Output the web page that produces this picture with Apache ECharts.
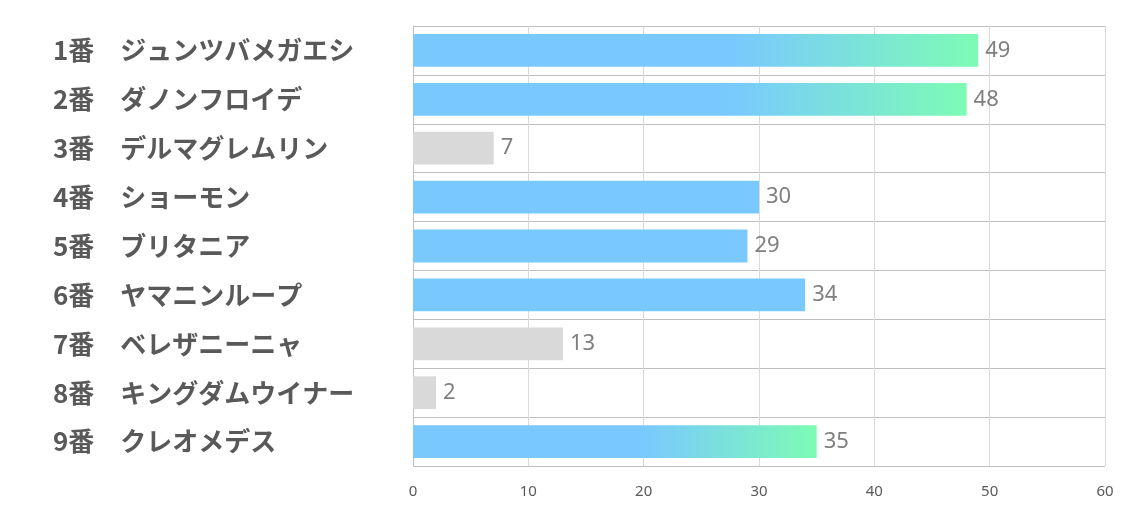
<!DOCTYPE html>
<html><head><meta charset="utf-8">
<script src="https://cdn.jsdelivr.net/npm/echarts@6/dist/echarts.min.js"></script>
<style>html,body{margin:0;padding:0;background:#fff}#c{width:1134px;height:510px}</style>
</head><body><div id="c"></div>
<script>
const categories = ["1番　ジュンツバメガエシ","2番　ダノンフロイデ","3番　デルマグレムリン","4番　ショーモン","5番　ブリタニア","6番　ヤマニンループ","7番　ベレザニーニャ","8番　キングダムウイナー","9番　クレオメデス"];
const values = [49,48,7,30,29,34,13,2,35];
const styleKind = ["grad","grad","gray","blue","blue","blue","gray","gray","grad"];
const xTicks = [0,10,20,30,40,50,60];

const BLUE = "#79C9FE", GREEN = "#7DFBB5", GRAY = "#D9D9D9";
function colorFor(kind){
  if (kind === "gray") return GRAY;
  if (kind === "blue") return BLUE;
  return new echarts.graphic.LinearGradient(0,0,1,0,[
    {offset:0,color:BLUE},{offset:0.57,color:BLUE},{offset:1,color:GREEN}]);
}
const data = values.map((v,i)=>({value:v,itemStyle:{color:colorFor(styleKind[i])}}));

const chart = echarts.init(document.getElementById('c'));
chart.setOption({
  animation:false,
  grid:{left:413,right:29,top:26,bottom:44,containLabel:false},
  xAxis:{type:'value',min:xTicks[0],max:xTicks[xTicks.length-1],interval:10,
    axisLine:{show:false},axisTick:{show:false},
    axisLabel:{color:'#595959',fontSize:15,margin:18,fontFamily:'Noto Sans'},
    splitLine:{show:true,lineStyle:{color:'#D9D9D9',width:1}}},
  yAxis:{type:'category',data:categories,inverse:true,
    axisLine:{show:true,lineStyle:{color:'#BFBFBF'}},axisTick:{show:false},
    axisLabel:{align:'left',margin:360,color:'#595959',fontSize:26,fontWeight:'bold',fontFamily:'Noto Sans CJK JP'},
    splitLine:{show:true,lineStyle:{color:'#BFBFBF',width:1}}},
  series:[{type:'bar',data:data,barWidth:'67%',
    label:{show:true,position:'right',distance:7,color:'#7F7F7F',fontSize:22,fontFamily:'Noto Sans'}}]
});
</script></body></html>
